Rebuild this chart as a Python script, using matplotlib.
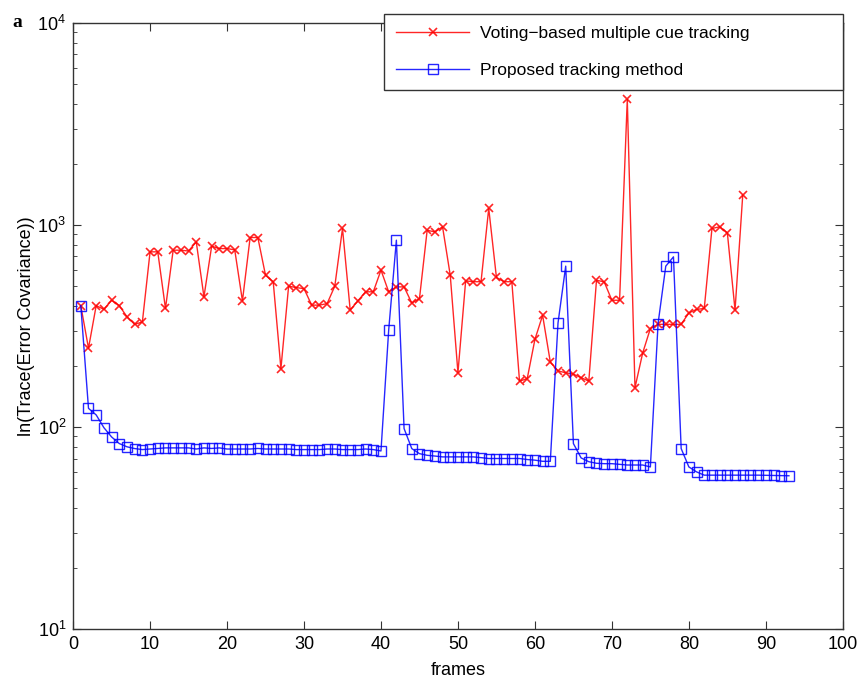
import matplotlib.pyplot as plt
from matplotlib.ticker import LogLocator, NullFormatter

# voting-based tracker, frames 1..87
frames_voting = list(range(1, 88))
voting = [400, 246, 400, 383, 425, 400, 352, 323, 332, 738,
          738, 387, 752, 752, 745, 827, 442, 787, 766, 766,
          755, 422, 869, 869, 565, 524, 195, 499, 491, 485,
          402, 402, 409, 499, 963, 380, 422, 468, 468, 599,
          468, 495, 495, 412, 433, 944, 926, 982, 565, 186,
          530, 525, 525, 1210, 551, 525, 525, 169, 174, 272,
          358, 210, 190, 186, 183, 176, 169, 534, 524, 425,
          425, 4190, 157, 233, 308, 323, 323, 323, 323, 368,
          383, 387, 963, 982, 916, 380, 1410]

# proposed tracker, frames 1..93
frames_proposed = list(range(1, 94))
proposed = [400, 124, 115, 99.5, 89.5, 83, 80, 78.4, 77.5, 78,
            78.5, 79, 79, 79, 79, 78, 79, 78.5, 79, 78,
            78, 78, 78, 78.5, 78, 78, 78, 78, 77.5, 77.5,
            77.5, 77.5, 78, 78, 77.5, 77.5, 77.5, 78, 77.5, 76.3,
            302, 843, 98.5, 78.4, 74, 72.6, 72, 71.3, 71.3, 71.3,
            71.3, 71.3, 70.7, 70, 70, 70, 70, 70, 69.2, 68.7,
            67.8, 67.8, 328, 627, 83, 70.5, 67.5, 66.3, 66, 66,
            65.5, 65, 65, 65, 63.6, 326, 627, 697, 78.4, 63.6,
            60.1, 57.9, 57.9, 57.9, 57.9, 57.9, 57.9, 57.9, 57.9, 57.8,
            57.7, 57.6, 57.5]

plt.rcParams['font.family'] = ['Liberation Sans', 'DejaVu Sans']
plt.rcParams['font.size'] = 13

fig = plt.figure(figsize=(8.6, 6.81), dpi=100, facecolor='w')
ax = fig.add_axes([0.085, 0.076, 0.895, 0.890])

ax.plot(frames_voting, voting, marker='x', linestyle='-', color='red',
        linewidth=1.0, markersize=6, markeredgewidth=1.2, alpha=0.85,
        label="Voting\u2212based multiple cue tracking")
ax.plot(frames_proposed, proposed, marker='s', linestyle='-', color='blue',
        linewidth=1.0, markersize=7, markerfacecolor='none',
        markeredgewidth=1.0, alpha=0.85, label="Proposed tracking method")

ax.set_yscale('log')
ax.set_xlim(0, 100)
ax.set_ylim(10, 10000)
ax.set_xticks(range(0, 101, 10))
ax.yaxis.set_minor_locator(LogLocator(base=10, subs=range(2, 10)))
ax.yaxis.set_minor_formatter(NullFormatter())
ax.tick_params(which='both', direction='in', top=True, right=True,
               color='#333333')
ax.tick_params(which='major', length=6, pad=5)
ax.tick_params(which='minor', length=3)
for sp in ax.spines.values():
    sp.set_linewidth(1.0)
    sp.set_color('#333333')

ax.set_xlabel("frames", labelpad=6)
ax.set_ylabel("ln(Trace(Error Covariance))", labelpad=2)

leg = ax.legend(loc='upper left', bbox_to_anchor=(0.404, 0.893, 0.596, 0.122),
                mode='expand', fancybox=False, edgecolor='#333333',
                framealpha=1, handlelength=4.2, handletextpad=0.6,
                borderaxespad=0, fontsize=12.5, labelspacing=1.25,
                borderpad=0.7)
leg.get_frame().set_linewidth(1.0)

fig.text(0.014, 0.967, "a", fontsize=14, fontweight='bold',
         family='Liberation Serif', va='center')

fig.savefig("out.png", dpi=100)
